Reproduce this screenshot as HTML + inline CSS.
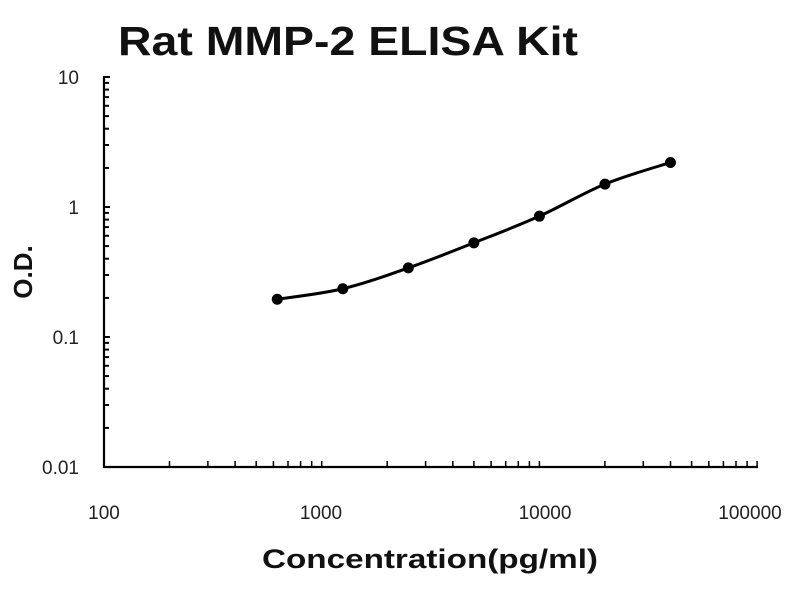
<!DOCTYPE html>
<html><head><meta charset="utf-8"><style>
html,body{margin:0;padding:0;background:#fff;width:800px;height:600px;overflow:hidden}
</style></head><body>
<svg id="s" width="800" height="600" xmlns="http://www.w3.org/2000/svg" font-family="Liberation Sans, sans-serif">
<text x="348" y="55" font-size="41" font-weight="bold" text-anchor="middle" fill="#111" textLength="460" lengthAdjust="spacingAndGlyphs">Rat MMP-2 ELISA Kit</text>
<text transform="translate(32,272) rotate(-90)" font-size="26" font-weight="bold" text-anchor="middle" fill="#111">O.D.</text>
<text x="430" y="568" font-size="27" font-weight="bold" text-anchor="middle" fill="#111" textLength="336" lengthAdjust="spacingAndGlyphs">Concentration(pg/ml)</text>
<g font-size="19" fill="#222" text-anchor="end">
<text x="79" y="84">10</text><text x="79" y="214">1</text><text x="79" y="344">0.1</text><text x="79" y="474">0.01</text>
</g>
<g font-size="19" fill="#222" text-anchor="middle">
<text x="104" y="519">100</text><text x="321" y="519">1000</text><text x="545" y="519">10000</text><text x="750" y="519">100000</text>
</g>
<g id="ax" stroke="#000" stroke-width="2.2" fill="none"></g>
<path id="cv" stroke="#000" stroke-width="3" fill="none"/>
<g id="pts" fill="#000"></g>
</svg>
<script>
var X0=104,DX=217.7,Y0=467,DY=130;
function px(v){return X0+DX*Math.log10(v/100)}
function py(v){return Y0-DY*(Math.log10(v)+2)}
var ax=document.getElementById('ax'),h='';
h+='<path d="M'+X0+' 76V'+Y0+'H'+758+'"/>';
for(var d=0;d<3;d++)for(var k=1;k<=10;k++){var y=py(Math.pow(10,d-2)*k);var l=(k==1||k==10)?6:5;h+='<path stroke-width="2" d="M'+X0+' '+y.toFixed(1)+'h'+l+'"/>';}
for(var d=0;d<3;d++)for(var k=2;k<=10;k++){var x=px(100*Math.pow(10,d)*k);h+='<path stroke-width="1.5" d="M'+x.toFixed(1)+' '+Y0+'v-6"/>';}
ax.innerHTML=h;
var D=[[625,0.195],[1250,0.235],[2500,0.34],[5000,0.53],[10000,0.85],[20000,1.5],[40000,2.2]];
var P=D.map(function(a){return [px(a[0]),py(a[1])]});
var s='M'+P[0][0]+' '+P[0][1];
for(var i=0;i<P.length-1;i++){var p0=P[Math.max(i-1,0)],p1=P[i],p2=P[i+1],p3=P[Math.min(i+2,P.length-1)];
s+=' C'+(p1[0]+(p2[0]-p0[0])/6)+' '+(p1[1]+(p2[1]-p0[1])/6)+' '+(p2[0]-(p3[0]-p1[0])/6)+' '+(p2[1]-(p3[1]-p1[1])/6)+' '+p2[0]+' '+p2[1];}
document.getElementById('cv').setAttribute('d',s);
document.getElementById('pts').innerHTML=P.map(function(p){return '<circle cx="'+p[0]+'" cy="'+p[1]+'" r="5.5"/>'}).join('');
</script>
</body></html>
